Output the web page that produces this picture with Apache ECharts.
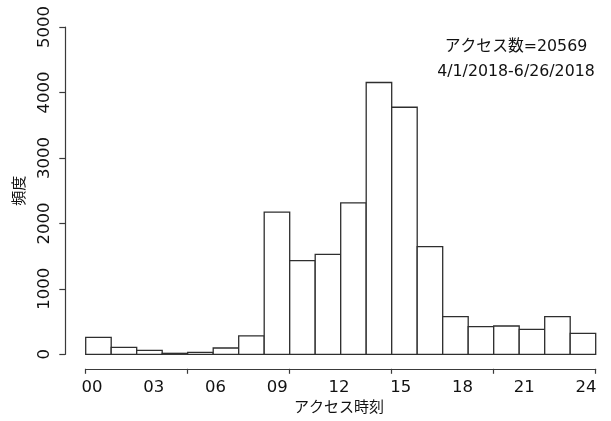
<!DOCTYPE html>
<html>
<head>
<meta charset="utf-8">
<script src="https://cdn.jsdelivr.net/npm/echarts@6/dist/echarts.min.js"></script>
<style>
  html, body { margin: 0; padding: 0; background: #fff; }
  #chart { width: 611px; height: 421px; }
</style>
</head>
<body>
<div id="chart"></div>
<script>
// Histogram bin counts (20 bins across the day)
const binCounts = [260, 107, 61, 15, 30, 96, 280, 2173, 1430, 1528,
                   2312, 4152, 3774, 1644, 575, 422, 432, 382, 575, 321];
// Hour labels shown under the histogram
const hourLabels = ['00', '03', '06', '09', '12', '15', '18', '21', '24'];
// Frequency axis ticks
const freqTicks = [0, 1000, 2000, 3000, 4000, 5000];
const periodText = '4/1/2018-6/26/2018';

const totalAccess = binCounts.reduce((a, b) => a + b, 0);

const FONT = '"DejaVu Sans", "Noto Sans CJK JP", sans-serif';
const ink = '#111';
const lineColor = '#3a3a3a';

const chart = echarts.init(document.getElementById('chart'));

chart.setOption({
  animation: false,
  backgroundColor: '#fff',
  textStyle: { fontFamily: FONT },
  title: {
    text: 'アクセス数=' + totalAccess + '\n' + periodText,
    left: 516,
    top: 34,
    textAlign: 'center',
    padding: 0,
    textStyle: {
      fontFamily: FONT,
      fontSize: 15.8,
      fontWeight: 'normal',
      color: ink,
      lineHeight: 25,
      align: 'center'
    }
  },
  grid: [
    { left: 85.7, right: 15.3, top: 27, bottom: 66.7 },
    { left: 92, right: 25, top: 27, bottom: 50 }
  ],
  xAxis: [
    {
      type: 'value',
      gridIndex: 0,
      min: 0,
      max: binCounts.length,
      interval: 4,
      offset: 14.5,
      axisLine: { show: true, onZero: false, lineStyle: { color: lineColor, width: 1.2 } },
      axisTick: { show: true, length: 5, lineStyle: { color: lineColor, width: 1.2 } },
      axisLabel: { show: false },
      splitLine: { show: false }
    },
    {
      type: 'category',
      gridIndex: 1,
      data: hourLabels,
      boundaryGap: false,
      axisLine: { show: false, onZero: false },
      axisTick: { show: false },
      axisLabel: {
        show: true,
        interval: 0,
        margin: 12,
        fontFamily: FONT,
        fontSize: 16.5,
        color: ink
      },
      name: 'アクセス時刻',
      nameLocation: 'middle',
      nameGap: 32,
      nameTextStyle: { fontFamily: FONT, fontSize: 15, color: ink }
    }
  ],
  yAxis: [
    {
      type: 'value',
      gridIndex: 0,
      min: freqTicks[0],
      max: freqTicks[freqTicks.length - 1],
      interval: freqTicks[1] - freqTicks[0],
      offset: 20.4,
      axisLine: { show: true, onZero: false, lineStyle: { color: lineColor, width: 1.2 } },
      axisTick: { show: true, length: 6, lineStyle: { color: lineColor, width: 1.2 } },
      axisLabel: {
        rotate: 90,
        margin: 12,
        fontFamily: FONT,
        fontSize: 16.5,
        color: ink,
        formatter: function (v) { return String(v); }
      },
      splitLine: { show: false },
      name: '頻度',
      nameLocation: 'middle',
      nameGap: 38,
      nameTextStyle: { fontFamily: FONT, fontSize: 15, color: ink }
    },
    {
      type: 'value',
      gridIndex: 1,
      show: false,
      min: 0,
      max: 1
    }
  ],
  series: [
    {
      type: 'custom',
      xAxisIndex: 0,
      yAxisIndex: 0,
      data: binCounts.map((v, i) => [i, v]),
      renderItem: function (params, api) {
        const i = api.value(0);
        const v = api.value(1);
        const topLeft = api.coord([i, v]);
        const bottomRight = api.coord([i + 1, 0]);
        return {
          type: 'rect',
          shape: {
            x: topLeft[0],
            y: topLeft[1],
            width: bottomRight[0] - topLeft[0],
            height: bottomRight[1] - topLeft[1]
          },
          style: { fill: '#fff', stroke: '#2e2e2e', lineWidth: 1.3 }
        };
      }
    }
  ]
});
</script>
</body>
</html>
